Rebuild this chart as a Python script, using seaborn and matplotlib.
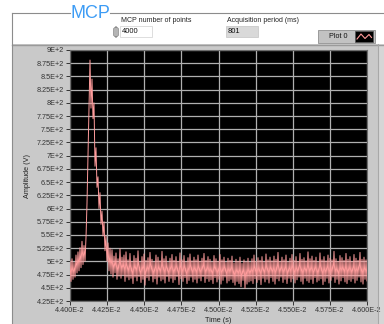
import numpy as np
import pandas as pd
import matplotlib
matplotlib.use("Agg")
import matplotlib.pyplot as plt
from matplotlib.patches import Rectangle, FancyBboxPatch
from matplotlib.lines import Line2D
import seaborn as sns

# ---- acquisition settings shown on the panel ----
n_points_label = "4000"
period_label = "801"
t_start, t_stop = 0.044, 0.046

# ---- MCP amplitude trace (V), uniformly sampled between t_start and t_stop ----
pre_pulse = [500, 462, 505, 466, 498, 470, 512, 478, 518, 482, 526, 488, 538, 494, 530]
rise_peak = [500, 545, 610, 700, 800, 881]
decay = [790, 845, 770, 800, 680, 715, 640, 660, 600, 630,
         570, 595, 548, 575, 520, 548, 500, 535, 482, 525]
baseline = [
    476, 522, 470, 510, 478, 516, 466, 505, 472, 524, 468, 508, 474, 512, 462, 518, 470, 503, 465, 515,
    468, 500, 458, 511, 470, 506, 463, 520, 471, 499, 460, 509, 466, 514, 455, 502, 469, 507, 464, 517,
    472, 504, 461, 499, 467, 512, 457, 508, 470, 501, 463, 519, 466, 505, 459, 510, 471, 498, 462, 506,
    468, 513, 460, 502, 465, 509, 471, 500, 456, 516, 467, 503, 462, 511, 469, 499, 458, 507, 464, 514,
    470, 501, 461, 508, 466, 503, 459, 512, 468, 500, 463, 506, 471, 515, 460, 502, 467, 509, 462, 504,
    465, 499, 458, 511, 469, 505, 461, 500, 466, 513, 457, 503, 464, 508, 470, 498, 459, 506, 463, 502,
    466, 510, 460, 497, 455, 504, 462, 500, 458, 508, 452, 496, 464, 503, 449, 499, 457, 506, 461, 498,
    463, 505, 458, 512, 467, 500, 460, 507, 465, 502, 456, 509, 468, 499, 461, 514, 466, 503, 459, 508,
    469, 501, 462, 510, 457, 504, 467, 517, 463, 500, 470, 508, 460, 503, 466, 512, 458, 499, 468, 506,
    461, 513, 467, 502, 459, 509, 465, 500, 470, 515, 462, 504, 457, 507, 468, 501, 463, 518, 460, 505,
    466, 510, 458, 502, 469, 508, 461, 499, 464, 516, 467, 503, 456, 509, 462, 501, 468, 512, 459, 506,
    464, 503, 470, 519, 460, 505, 466, 500, 457, 511, 463, 507, 469, 502, 461, 515, 458, 504, 465, 509,
    462, 500, 467, 513, 459, 506, 464, 502, 470, 517, 461, 504, 457, 508, 466, 503, 463,
]
amplitude = pre_pulse + rise_peak + decay + baseline

# ---- axis ticks ----
y_ticks = [900, 875, 850, 825, 800, 775, 750, 725, 700, 675, 650, 625,
           600, 575, 550, 525, 500, 475, 450, 425]
y_tick_labels = ["9E+2", "8.75E+2", "8.5E+2", "8.25E+2", "8E+2", "7.75E+2", "7.5E+2",
                 "7.25E+2", "7E+2", "6.75E+2", "6.5E+2", "6.25E+2", "6E+2", "5.75E+2",
                 "5.5E+2", "5.25E+2", "5E+2", "4.75E+2", "4.5E+2", "4.25E+2"]
x_ticks = [0.044, 0.04425, 0.0445, 0.04475, 0.045, 0.04525, 0.0455, 0.04575, 0.046]
x_tick_labels = ["4.400E-2", "4.425E-2", "4.450E-2", "4.475E-2", "4.500E-2",
                 "4.525E-2", "4.550E-2", "4.575E-2", "4.600E-2"]

df = pd.DataFrame({
    "Time (s)": np.linspace(t_start, t_stop, len(amplitude)),
    "Amplitude (V)": amplitude,
})

W, H = 384, 324
plt.rcParams["font.family"] = ["Liberation Sans", "DejaVu Sans"]
fig = plt.figure(figsize=(W / 100, H / 100), dpi=100, facecolor="white")


def px_rect(x0, y0, x1, y1, **kw):
    """Rectangle in figure pixels measured from the top-left corner."""
    r = Rectangle((x0 / W, 1 - y1 / H), (x1 - x0) / W, (y1 - y0) / H,
                  transform=fig.transFigure, **kw)
    fig.add_artist(r)
    return r


def px_line(xs, ys, **kw):
    fig.add_artist(Line2D([x / W for x in xs], [1 - y / H for y in ys],
                          transform=fig.transFigure, **kw))


def px_text(x, y, s, **kw):
    fig.text(x / W, 1 - y / H, s, **kw)


# graph panel
px_rect(12, 44, 384, 324, facecolor="#c9c9c9", edgecolor="none", zorder=0)
px_line([12, 384], [44.5, 44.5], color="#9a9a9a", lw=1.0, zorder=1)
px_line([378, 378], [44, 324], color="#a8a8a8", lw=0.8, zorder=1)
px_rect(378.5, 44, 384, 324, facecolor="#d6d6d6", edgecolor="none", zorder=0)

# group box frame with the "MCP" caption
px_line([12, 12], [13, 324], color="#8c8c8c", lw=0.8, zorder=1)
px_line([12, 70], [13, 13], color="#8c8c8c", lw=0.8, zorder=1)
px_line([110, 384], [13, 13], color="#8c8c8c", lw=0.8, zorder=1)
px_text(90, 13, "MCP", color="#3d9cf5", fontsize=13, ha="center", va="center")

# controls
px_text(121, 20, "MCP number of points", fontsize=5, color="#222222", va="center")
fig.add_artist(FancyBboxPatch((113.5 / W, 1 - 37 / H), 5 / W, 10 / H,
                              boxstyle="round,pad=0,rounding_size=0.008",
                              transform=fig.transFigure, facecolor="#b5b5b5",
                              edgecolor="#8a8a8a", lw=0.5))
px_rect(120, 26, 152, 37, facecolor="white", edgecolor="#d0d0d0", lw=0.5)
px_text(122, 31.5, n_points_label, fontsize=5.5, color="#111111", va="center")

px_text(227, 20, "Acquisition period (ms)", fontsize=5, color="#222222", va="center")
px_rect(226, 26, 258, 37, facecolor="#d9d9d9", edgecolor="#c4c4c4", lw=0.5)
px_text(228, 31.5, period_label, fontsize=5.5, color="#111111", va="center")

# plot legend
px_rect(318, 30, 375, 43, facecolor="#c2c2c2", edgecolor="#8f8f8f", lw=0.6)
px_text(329, 36.5, "Plot 0", fontsize=5.2, color="#111111", va="center")
px_rect(355, 31.5, 373, 41.5, facecolor="black", edgecolor="#555555", lw=0.5)
px_line([357, 361, 365, 369, 371.5], [39, 34, 38.5, 34.5, 37.5], color="#ff9a9a", lw=0.8)

# waveform graph
ax = fig.add_axes([70 / W, 1 - 301 / H, 297 / W, 251 / H])
ax.set_facecolor("black")
sns.lineplot(data=df, x="Time (s)", y="Amplitude (V)", ax=ax, estimator=None,
             sort=False, color="#ff9c9c", lw=0.7, zorder=3)
ax.set_xlim(t_start, t_stop)
ax.set_ylim(425, 900)
ax.set_xticks(x_ticks)
ax.set_xticklabels(x_tick_labels)
ax.set_yticks(y_ticks)
ax.set_yticklabels(y_tick_labels)
ax.grid(True, color="#b0b0b0", lw=0.9, zorder=1)
ax.set_axisbelow(True)
for s in ax.spines.values():
    s.set_color("#6e6e6e")
    s.set_linewidth(0.8)
ax.tick_params(axis="both", direction="out", length=3, width=0.7, colors="#333333",
               labelsize=5.2, pad=1.2)
ax.set_xlabel("Time (s)", fontsize=5.2, color="#222222", labelpad=2)
ax.set_ylabel("Amplitude (V)", fontsize=5.2, color="#222222", labelpad=4)

fig.savefig("out.png", dpi=100, facecolor="white")
